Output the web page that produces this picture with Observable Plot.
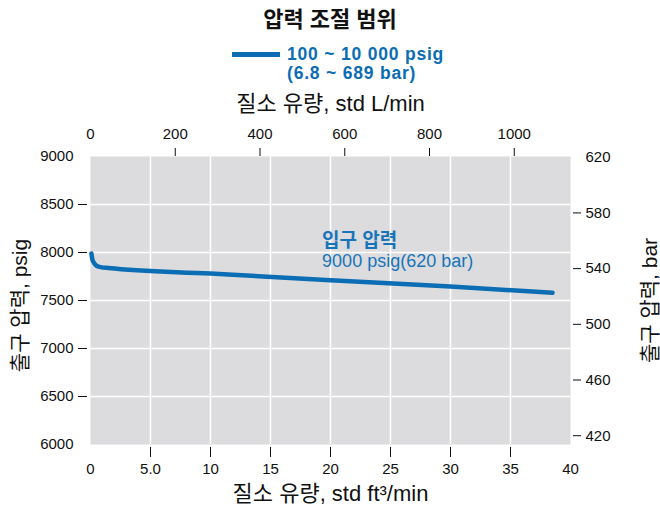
<!DOCTYPE html>
<html><head><meta charset="utf-8">
<script src="https://cdn.jsdelivr.net/npm/d3@7"></script>
<script src="https://cdn.jsdelivr.net/npm/@observablehq/plot@0.6"></script>
<style>
body{margin:0;background:#fff;font-family:"Liberation Sans","Noto Sans CJK KR",sans-serif;}
#wrap{position:relative;width:660px;height:509px;overflow:hidden}
#head{position:relative;height:88px;}
.title{position:absolute;left:0;width:660px;top:6px;text-align:center;font-weight:bold;font-size:22px;line-height:28px;color:#111;}
.legline{position:absolute;left:232px;top:52px;width:48px;height:5px;background:#0b6db3}
.legtext{position:absolute;left:287px;top:45px;font-weight:bold;font-size:17.5px;color:#0b6db3;line-height:19px;white-space:nowrap;letter-spacing:0.8px}
svg{display:block}
</style></head>
<body>
<div id="wrap">
  <div id="head">
    <div class="title" id="title"></div>
    <div class="legline"></div>
    <div class="legtext" id="legtext"></div>
  </div>
  <div id="chart"></div>
</div>
<script>
// ---- data ----
const chartTitle = "압력 조절 범위";
const legendLines = ["100 ~ 10 000 psig", "(6.8 ~ 689 bar)"];
const xTitleBottom = "질소 유량, std ft³/min";
const xTitleTop = "질소 유량, std L/min";
const yTitleLeft = "출구 압력, psig";
const yTitleRight = "출구 압력, bar";

// nitrogen flow (std ft3/min) and outlet pressure (psig)
const flow = [0.08, 0.15, 0.28, 0.5, 0.85, 1.5, 10, 20, 30, 38.5];
const outletPsig = [7990, 7930, 7895, 7862, 7848, 7838, 7780, 7712, 7645, 7580];

const ft3Ticks = [0, 5, 10, 15, 20, 25, 30, 35, 40];
const ft3TickLabels = ["0", "5.0", "10", "15", "20", "25", "30", "35", "40"];
const ft3Inner = [5, 10, 15, 20, 25, 30, 35];
const lpmTicks = [0, 200, 400, 600, 800, 1000];
const lpmInner = [200, 400, 600, 800, 1000];
const psiTicks = [6000, 6500, 7000, 7500, 8000, 8500, 9000];
const psiInner = [6500, 7000, 7500, 8000, 8500];
const barTicks = [420, 460, 500, 540, 580, 620];
const barInner = [420, 460, 500, 540, 580];

const annotLabels = ["입구 압력", "9000 psig(620 bar)"];
const annotFlow = [19.3, 19.3];
const annotPsig = [8120, 7906];

const LPM_PER_CFM = 28.3168;
const PSI_PER_BAR = 14.5038;

// ---- header ----
document.getElementById("title").textContent = chartTitle;
document.getElementById("legtext").innerHTML = legendLines.map(s => `<div>${s}</div>`).join("");

const lineData = flow.map((f, i) => ({f, p: outletPsig[i]}));
const annot = annotLabels.map((t, i) => ({t, f: annotFlow[i], p: annotPsig[i], bold: i === 0}));

const font = "Liberation Sans, Noto Sans CJK KR, sans-serif";
const ink = "#111";
const blue = "#0b6db3";
const annotBlue = "#1874b8";

const plot = Plot.plot({
  width: 660,
  height: 421,
  marginTop: 68,
  marginBottom: 65,
  marginLeft: 90,
  marginRight: 90,
  style: {fontFamily: font, fontSize: "15px", color: ink, background: "transparent", overflow: "visible"},
  x: {domain: [0, 40], label: null},
  y: {domain: [6000, 9000], label: null},
  marks: [
    Plot.frame({fill: "#dcdcde", stroke: null}),
    Plot.gridX(ft3Inner, {stroke: "#fff", strokeOpacity: 1, strokeWidth: 1.5}),
    Plot.gridY(psiInner, {stroke: "#fff", strokeOpacity: 1, strokeWidth: 1.5}),
    // bottom axis
    Plot.axisX(ft3Ticks, {anchor: "bottom", tickSize: 0, tickPadding: 19, label: null,
      tickFormat: d => ft3TickLabels[ft3Ticks.indexOf(d)], fill: ink}),
    Plot.axisX(ft3Inner, {anchor: "bottom", tickSize: 10, dy: 3, fill: "none", label: null, stroke: ink}),
    // top axis (L/min)
    Plot.axisX(lpmTicks.map(v => v / LPM_PER_CFM), {anchor: "top", tickSize: 0, tickPadding: 18, label: null,
      tickFormat: d => String(Math.round(d * LPM_PER_CFM)), fill: ink}),
    Plot.axisX(lpmInner.map(v => v / LPM_PER_CFM), {anchor: "top", tickSize: 8, dy: -1, fill: "none", label: null, stroke: ink}),
    // left axis (psig)
    Plot.axisY(psiTicks, {anchor: "left", tickSize: 0, tickPadding: 17, label: null, tickFormat: d => String(d), fill: ink}),
    Plot.axisY(psiInner, {anchor: "left", tickSize: 9, dx: -3, fill: "none", label: null, stroke: ink}),
    // right axis (bar)
    Plot.axisY(barTicks.map(b => b * PSI_PER_BAR), {anchor: "right", tickSize: 0, tickPadding: 15, label: null,
      tickFormat: d => String(Math.round(d / PSI_PER_BAR)), fill: ink}),
    Plot.axisY(barInner.map(b => b * PSI_PER_BAR), {anchor: "right", tickSize: 8, dx: 2, fill: "none", label: null, stroke: ink}),
    // data line
    Plot.line(lineData, {x: "f", y: "p", stroke: blue, strokeWidth: 4.5, curve: "monotone-x"}),
    // annotation
    Plot.text(annot.filter(d => d.bold), {x: "f", y: "p", text: "t", textAnchor: "start", lineAnchor: "middle",
      fill: annotBlue, fontSize: 19, fontWeight: "bold"}),
    Plot.text(annot.filter(d => !d.bold), {x: "f", y: "p", text: "t", textAnchor: "start", lineAnchor: "middle",
      fill: annotBlue, fontSize: 18, letterSpacing: "0.5px"}),
    // axis titles
    Plot.text([xTitleTop], {text: d => d, frameAnchor: "top", dy: -53, fontSize: 22, fill: ink, lineAnchor: "middle"}),
    Plot.text([xTitleBottom], {text: d => d, frameAnchor: "bottom", dy: 49, fontSize: 22, fill: ink, lineAnchor: "middle"}),
    Plot.text([yTitleLeft], {text: d => d, frameAnchor: "left", dx: -70, dy: 5, rotate: -90, textAnchor: "middle", lineAnchor: "middle", fontSize: 21, fill: ink}),
    Plot.text([yTitleRight], {text: d => d, frameAnchor: "right", dx: 80, rotate: -90, textAnchor: "middle", lineAnchor: "middle", fontSize: 21, fill: ink})
  ]
});
document.getElementById("chart").appendChild(plot);
</script>
</body></html>
